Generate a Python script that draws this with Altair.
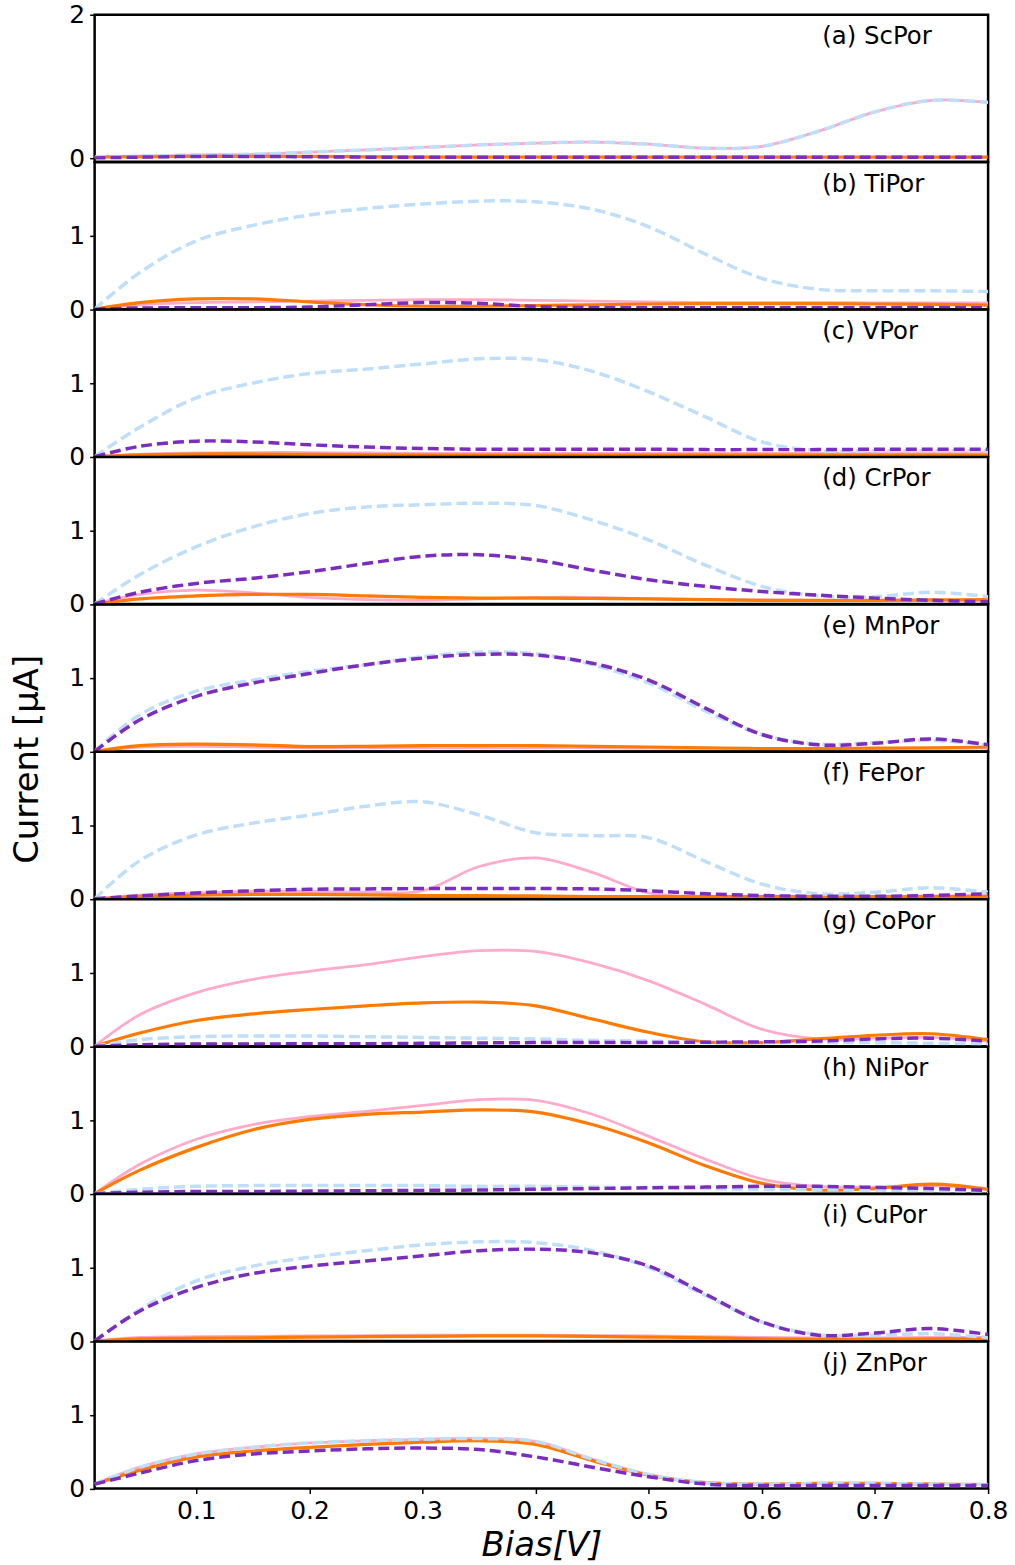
import altair as alt
import pandas as pd

# ---------------- data ----------------
bias = [0.01, 0.05, 0.10, 0.15, 0.20, 0.25, 0.30, 0.35, 0.40,
        0.45, 0.50, 0.55, 0.60, 0.65, 0.70, 0.75, 0.80]

panel_labels = ["(a) ScPor", "(b) TiPor", "(c) VPor", "(d) CrPor", "(e) MnPor",
                "(f) FePor", "(g) CoPor", "(h) NiPor", "(i) CuPor", "(j) ZnPor"]

# (a) ScPor
a_pink = [0.02, 0.035, 0.05, 0.06, 0.09, 0.12, 0.155, 0.19, 0.215, 0.23, 0.20, 0.145, 0.17, 0.38, 0.65, 0.81, 0.78]
a_orange = [0.02, 0.025, 0.03, 0.03, 0.03, 0.025, 0.02, 0.02, 0.02, 0.02, 0.02, 0.02, 0.02, 0.02, 0.02, 0.02, 0.02]
a_blue = [0.02, 0.035, 0.05, 0.06, 0.09, 0.12, 0.155, 0.19, 0.215, 0.23, 0.20, 0.145, 0.17, 0.38, 0.65, 0.81, 0.78]
a_purple = [0.01, 0.02, 0.03, 0.03, 0.025, 0.02, 0.02, 0.02, 0.02, 0.02, 0.02, 0.02, 0.02, 0.02, 0.02, 0.02, 0.02]

# (b) TiPor
b_pink = [0.0, 0.06, 0.09, 0.10, 0.11, 0.12, 0.13, 0.13, 0.12, 0.11, 0.10, 0.09, 0.09, 0.09, 0.085, 0.085, 0.085]
b_orange = [0.0, 0.09, 0.14, 0.14, 0.10, 0.06, 0.04, 0.04, 0.05, 0.06, 0.07, 0.075, 0.075, 0.075, 0.07, 0.065, 0.055]
b_blue = [0.0, 0.50, 0.93, 1.14, 1.28, 1.37, 1.43, 1.47, 1.46, 1.36, 1.12, 0.75, 0.42, 0.27, 0.25, 0.25, 0.24]
b_purple = [0.0, 0.015, 0.02, 0.02, 0.03, 0.06, 0.09, 0.08, 0.035, 0.02, 0.02, 0.02, 0.02, 0.02, 0.02, 0.02, 0.02]

# (c) VPor
c_pink = [0.0, 0.03, 0.05, 0.055, 0.055, 0.05, 0.045, 0.045, 0.045, 0.045, 0.045, 0.045, 0.045, 0.045, 0.05, 0.05, 0.055]
c_orange = [0.0, 0.025, 0.035, 0.035, 0.03, 0.025, 0.02, 0.02, 0.02, 0.02, 0.02, 0.02, 0.02, 0.02, 0.02, 0.02, 0.02]
c_blue = [0.0, 0.40, 0.80, 1.00, 1.13, 1.19, 1.26, 1.33, 1.32, 1.16, 0.88, 0.54, 0.20, 0.08, 0.08, 0.08, 0.08]
c_purple = [0.0, 0.14, 0.21, 0.20, 0.16, 0.13, 0.11, 0.10, 0.10, 0.10, 0.10, 0.095, 0.095, 0.095, 0.10, 0.10, 0.10]

# (d) CrPor
d_pink = [0.0, 0.13, 0.19, 0.15, 0.09, 0.06, 0.05, 0.07, 0.09, 0.09, 0.07, 0.06, 0.055, 0.05, 0.05, 0.05, 0.05]
d_orange = [0.0, 0.07, 0.11, 0.13, 0.13, 0.11, 0.09, 0.08, 0.08, 0.075, 0.07, 0.06, 0.05, 0.05, 0.05, 0.055, 0.06]
d_blue = [0.0, 0.40, 0.78, 1.05, 1.23, 1.32, 1.35, 1.37, 1.34, 1.14, 0.87, 0.53, 0.24, 0.11, 0.10, 0.16, 0.10]
d_purple = [0.0, 0.16, 0.28, 0.35, 0.44, 0.55, 0.65, 0.67, 0.60, 0.46, 0.33, 0.24, 0.17, 0.12, 0.08, 0.05, 0.03]

# (e) MnPor
e_pink = [0.0, 0.06, 0.07, 0.06, 0.05, 0.05, 0.05, 0.05, 0.05, 0.05, 0.045, 0.04, 0.04, 0.04, 0.04, 0.04, 0.045]
e_orange = [0.0, 0.08, 0.10, 0.09, 0.065, 0.07, 0.08, 0.08, 0.08, 0.07, 0.06, 0.05, 0.04, 0.04, 0.045, 0.05, 0.06]
e_blue = [0.0, 0.50, 0.82, 0.97, 1.09, 1.18, 1.29, 1.35, 1.33, 1.18, 0.93, 0.55, 0.23, 0.10, 0.12, 0.15, 0.09]
e_purple = [0.0, 0.43, 0.75, 0.93, 1.06, 1.18, 1.27, 1.32, 1.31, 1.20, 0.97, 0.59, 0.23, 0.09, 0.11, 0.17, 0.09]

# (f) FePor
f_pink = [0.0, 0.05, 0.08, 0.10, 0.10, 0.09, 0.11, 0.44, 0.557, 0.36, 0.08, 0.03, 0.03, 0.03, 0.03, 0.04, 0.05]
f_orange = [0.0, 0.035, 0.05, 0.06, 0.06, 0.055, 0.045, 0.045, 0.04, 0.03, 0.03, 0.03, 0.03, 0.03, 0.03, 0.03, 0.03]
f_blue = [0.0, 0.52, 0.87, 1.03, 1.14, 1.26, 1.32, 1.14, 0.90, 0.86, 0.83, 0.51, 0.20, 0.07, 0.09, 0.15, 0.09]
f_purple = [0.0, 0.04, 0.08, 0.11, 0.13, 0.135, 0.14, 0.14, 0.14, 0.135, 0.11, 0.07, 0.045, 0.035, 0.035, 0.045, 0.07]

# (g) CoPor
g_pink = [0.0, 0.43, 0.73, 0.91, 1.02, 1.11, 1.22, 1.30, 1.29, 1.13, 0.89, 0.57, 0.23, 0.10, 0.11, 0.12, 0.07]
g_orange = [0.0, 0.18, 0.35, 0.44, 0.50, 0.55, 0.59, 0.60, 0.55, 0.37, 0.19, 0.06, 0.05, 0.10, 0.15, 0.17, 0.09]
g_blue = [0.0, 0.09, 0.13, 0.14, 0.14, 0.13, 0.12, 0.11, 0.10, 0.08, 0.07, 0.05, 0.05, 0.05, 0.05, 0.04, 0.03]
g_purple = [0.0, 0.02, 0.03, 0.03, 0.035, 0.035, 0.04, 0.045, 0.05, 0.05, 0.05, 0.055, 0.06, 0.07, 0.10, 0.11, 0.07]

# (h) NiPor
h_pink = [0.0, 0.40, 0.74, 0.94, 1.05, 1.12, 1.20, 1.28, 1.27, 1.08, 0.78, 0.47, 0.20, 0.10, 0.09, 0.11, 0.06]
h_orange = [0.0, 0.32, 0.63, 0.87, 1.01, 1.08, 1.11, 1.14, 1.11, 0.94, 0.69, 0.38, 0.14, 0.05, 0.07, 0.13, 0.06]
h_blue = [0.0, 0.06, 0.10, 0.11, 0.11, 0.11, 0.11, 0.10, 0.10, 0.09, 0.08, 0.07, 0.06, 0.055, 0.05, 0.04, 0.03]
h_purple = [0.0, 0.02, 0.03, 0.03, 0.035, 0.04, 0.045, 0.05, 0.06, 0.07, 0.08, 0.09, 0.10, 0.10, 0.085, 0.07, 0.045]

# (i) CuPor
i_pink = [0.0, 0.05, 0.06, 0.065, 0.07, 0.075, 0.08, 0.08, 0.08, 0.075, 0.07, 0.06, 0.05, 0.045, 0.045, 0.05, 0.05]
i_orange = [0.0, 0.03, 0.04, 0.045, 0.055, 0.06, 0.065, 0.07, 0.07, 0.065, 0.055, 0.045, 0.03, 0.025, 0.025, 0.03, 0.03]
i_blue = [0.0, 0.43, 0.82, 1.02, 1.14, 1.23, 1.31, 1.35, 1.34, 1.23, 1.00, 0.62, 0.26, 0.09, 0.08, 0.10, 0.05]
i_purple = [0.0, 0.41, 0.73, 0.92, 1.02, 1.09, 1.16, 1.23, 1.25, 1.20, 1.02, 0.64, 0.26, 0.08, 0.11, 0.17, 0.09]

# (j) ZnPor
j_pink = [0.06, 0.29, 0.47, 0.56, 0.62, 0.65, 0.67, 0.68, 0.64, 0.40, 0.19, 0.08, 0.06, 0.07, 0.07, 0.06, 0.055]
j_orange = [0.06, 0.25, 0.43, 0.51, 0.56, 0.60, 0.63, 0.65, 0.60, 0.38, 0.18, 0.08, 0.06, 0.07, 0.07, 0.06, 0.055]
j_blue = [0.06, 0.29, 0.47, 0.56, 0.62, 0.65, 0.67, 0.68, 0.64, 0.40, 0.19, 0.08, 0.06, 0.07, 0.07, 0.06, 0.055]
j_purple = [0.06, 0.21, 0.38, 0.47, 0.51, 0.54, 0.55, 0.53, 0.43, 0.29, 0.16, 0.06, 0.04, 0.04, 0.04, 0.04, 0.04]

panel_series = [
    (a_pink, a_orange, a_blue, a_purple),
    (b_pink, b_orange, b_blue, b_purple),
    (c_pink, c_orange, c_blue, c_purple),
    (d_pink, d_orange, d_blue, d_purple),
    (e_pink, e_orange, e_blue, e_purple),
    (f_pink, f_orange, f_blue, f_purple),
    (g_pink, g_orange, g_blue, g_purple),
    (h_pink, h_orange, h_blue, h_purple),
    (i_pink, i_orange, i_blue, i_purple),
    (j_pink, j_orange, j_blue, j_purple),
]

series_names = ["pink", "orange", "blue", "purple"]
# name -> (colour, dash, width)
series_style = {
    "pink": ("#FFAACB", None, 2.8),
    "orange": ("#FF7A00", None, 3.2),
    "blue": ("#BFDEFA", [11, 5], 3.5),
    "purple": ("#7B2DBE", [11, 5], 3.5),
}

FONT = "DejaVu Sans"
W = 897
H = 147.6

rows = []
for p, label in enumerate(panel_labels):
    for s, vals in zip(series_names, panel_series[p]):
        for x, y in zip(bias, vals):
            rows.append({"panel": label, "series": s, "bias": x, "current": y})
df = pd.DataFrame(rows)


def make_panel(p):
    label = panel_labels[p]
    first = p == 0
    last = p == len(panel_labels) - 1
    ydom = [-0.044, 2] if first else [0, 2]
    yticks = [0, 2] if first else [0, 1]

    if last:
        xaxis = alt.Axis(values=[0.1, 0.2, 0.3, 0.4, 0.5, 0.6, 0.7, 0.8], format=".1f",
                         labelFontSize=25, labelFont=FONT, labelColor="black",
                         labelFlush=False, labelOverlap=False, labelPadding=5,
                         tickSize=5, tickWidth=1.5, tickColor="black",
                         domain=False, grid=False,
                         title="Bias[V]", titleFont=FONT, titleFontSize=34,
                         titleFontStyle="italic", titleFontWeight="normal",
                         titleColor="black", titleBaseline="alphabetic", titleY=67)
    else:
        xaxis = None

    yargs = dict(values=yticks, format="d", labelFontSize=25, labelFont=FONT,
                 labelColor="black", labelPadding=5, tickSize=5, tickWidth=1.5,
                 tickColor="black", domain=False, grid=False, labelFlush=False,
                 labelOverlap=False)
    if p == 5:
        yaxis = alt.Axis(title="Current [μA]", titleFont=FONT, titleFontSize=34,
                         titleFontWeight="normal", titleColor="black",
                         titleAngle=270, titleBaseline="bottom", titleAlign="center",
                         titleX=-50, titleY=7, **yargs)
    else:
        yaxis = alt.Axis(title=None, **yargs)

    X = alt.X("bias:Q", scale=alt.Scale(domain=[0.01, 0.8], nice=False, zero=False), axis=xaxis)
    Y = alt.Y("current:Q", scale=alt.Scale(domain=ydom, nice=False, zero=False), axis=yaxis)

    sub = df[df["panel"] == label]
    base = alt.Chart(sub)
    layers = []
    for s in series_names:
        color, dash, width = series_style[s]
        mk = dict(color=color, strokeWidth=width, interpolate="catmull-rom", clip=True)
        if dash is not None:
            mk["strokeDash"] = dash
        layers.append(base.transform_filter(alt.datum.series == s).mark_line(**mk).encode(x=X, y=Y))

    lab_df = pd.DataFrame({"bias": [0.6534], "current": [1.6], "label": [label]})
    text = alt.Chart(lab_df).mark_text(align="left", baseline="alphabetic", font=FONT,
                                       fontSize=24.5, color="black").encode(x=X, y=Y, text="label:N")
    return alt.layer(*layers, text).properties(width=W, height=H)


chart = alt.vconcat(*[make_panel(p) for p in range(len(panel_labels))],
                    spacing=0, bounds="flush").properties(
    padding={"left": 9, "top": -2.3, "right": 5, "bottom": 5}
).configure(background="white").configure_view(stroke="black", strokeWidth=2.5)

chart.save("out.html", embed_options={"renderer": "svg", "actions": False})
